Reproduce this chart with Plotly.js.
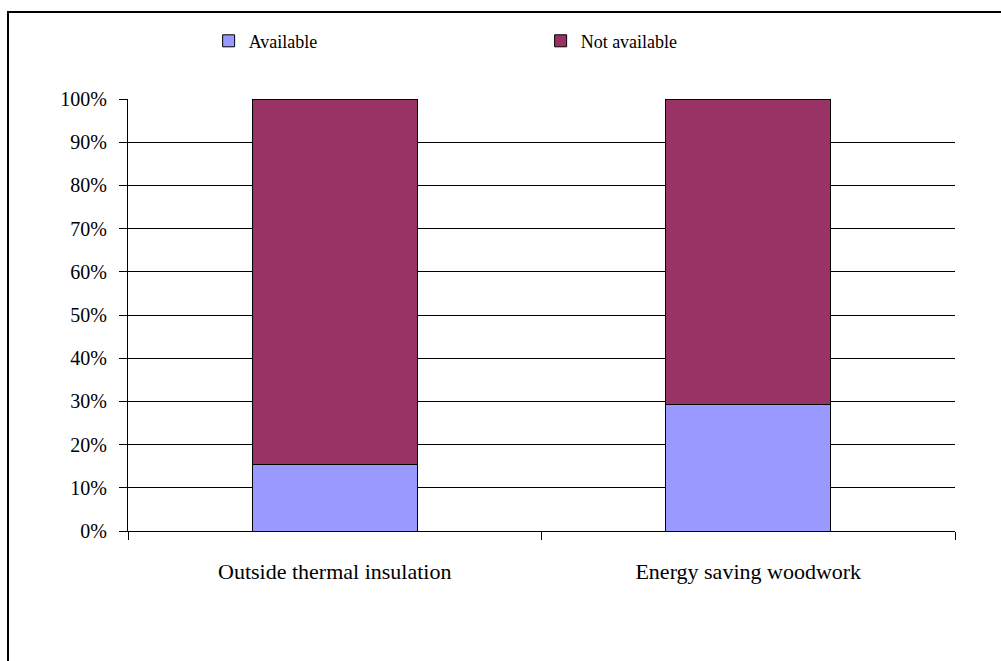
<!DOCTYPE html>
<html>
<head>
<meta charset="utf-8">
<script src="https://cdn.plot.ly/plotly-3.0.1.min.js"></script>
<style>html,body{margin:0;padding:0;background:#fff;}#chart{width:1001px;height:661px;}</style>
</head>
<body>
<div id="chart"></div>
<script>
var categories = ["Outside thermal insulation", "Energy saving woodwork"];
var seriesNames = ["Available", "Not available"];
var available = [15.3, 29.2];
var notAvailable = [84.7, 70.8];
var yTicks = [0, 10, 20, 30, 40, 50, 60, 70, 80, 90, 100];

var fam = "Liberation Serif, Times New Roman, serif";
var font = {family: fam, size: 18, color: "#000"};

var traces = [
  {type: "bar", name: seriesNames[0], x: categories, y: available,
   marker: {color: "#9999FF", line: {color: "#000", width: 1}}},
  {type: "bar", name: seriesNames[1], x: categories, y: notAvailable,
   marker: {color: "#993366", line: {color: "#000", width: 1}}}
];

var layout = {
  width: 1001, height: 661,
  margin: {l: 128, r: 46, t: 99, b: 130},
  barmode: "stack",
  bargap: 0.6,
  paper_bgcolor: "#fff", plot_bgcolor: "#fff",
  font: font,
  showlegend: true,
  legend: {orientation: "h", x: 0.0975, xanchor: "left", y: 1.134, yanchor: "middle",
           entrywidth: 287, entrywidthmode: "pixels", font: {family: fam, size: 18, color: "#000"},
           traceorder: "normal", itemwidth: 30},
  xaxis: {type: "category", tickson: "boundaries", ticks: "outside", ticklen: 8, tickcolor: "#000",
          showline: true, linecolor: "#000", linewidth: 1, showgrid: false,
          ticklabelstandoff: 21, tickfont: {family: fam, size: 22, color: "#000"}, fixedrange: true},
  yaxis: {range: [0, 100], tickmode: "array", tickvals: yTicks,
          ticktext: yTicks.map(function(v){return v + "%";}),
          ticks: "outside", ticklen: 8, tickcolor: "#000",
          showline: true, linecolor: "#000", linewidth: 1,
          showgrid: true, gridcolor: "#000", gridwidth: 1, zeroline: false,
          ticklabelstandoff: 8, tickfont: {family: fam, size: 20, color: "#000"}, fixedrange: true},
  shapes: [{type: "rect", xref: "paper", yref: "paper",
            x0: -0.1451, x1: 1.1, y0: -0.4, y1: 1.2014,
            line: {color: "#000", width: 2}, fillcolor: "rgba(0,0,0,0)", layer: "above"}]
};

Plotly.newPlot("chart", traces, layout, {displayModeBar: false, staticPlot: true});
</script>
</body>
</html>
